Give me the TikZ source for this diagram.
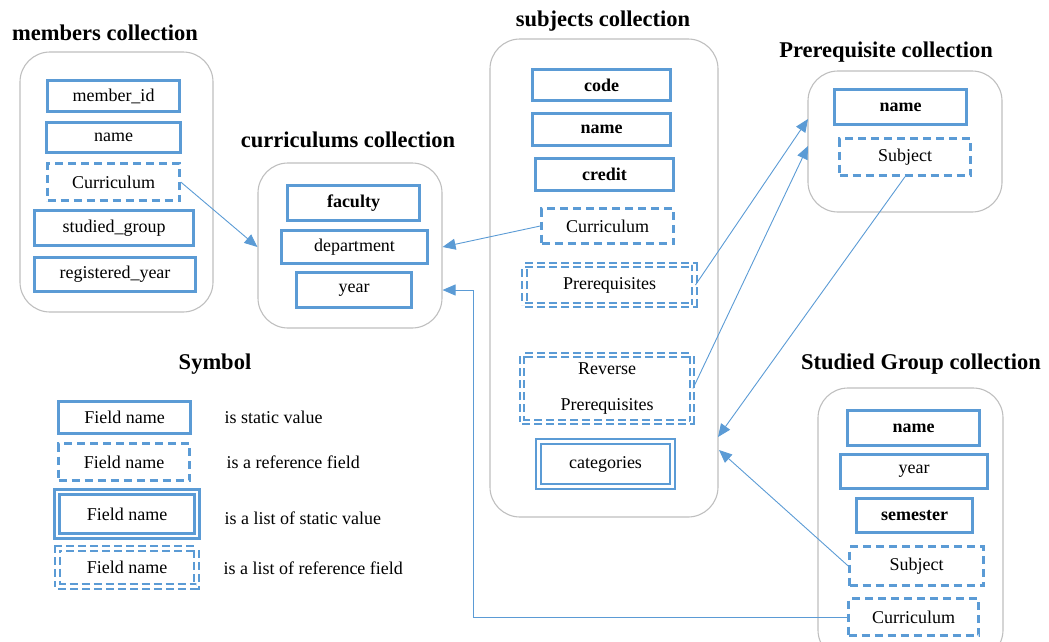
\documentclass[tikz,border=0pt]{standalone}
\usepackage{fontspec}
\setmainfont{Liberation Serif}
\usetikzlibrary{arrows.meta}
\definecolor{fieldblue}{HTML}{5B9BD5}
\definecolor{boxgray}{HTML}{BFBFBF}
\tikzset{
    coll/.style={draw=boxgray,line width=1.1pt,rounded corners=30pt,inner sep=0pt},
    field/.style={draw=fieldblue,line width=2.5pt,inner sep=0pt,font=\fontsize{18}{20}\selectfont},
    reffield/.style={field,dash pattern=on 8pt off 5pt},
    listfield/.style={field,line width=2.6pt,double=white,double distance=2.6pt},
    listref/.style={field,line width=1.9pt,double=white,double distance=2.4pt,dash pattern=on 8pt off 4pt},
    fsize/.style 2 args={minimum width=#1,minimum height=#2},
    title/.style={font=\bfseries\fontsize{22.5}{26}\selectfont},
    desc/.style={anchor=west,font=\fontsize{18}{20}\selectfont},
    link/.style={draw=fieldblue,line width=0.9pt,-{Triangle[length=13pt,width=11pt]}}
}
\begin{document}
\begin{tikzpicture}[x=1pt,y=-1pt]
    \clip (0,0) rectangle (1049,641);
    % Collections
    \node[coll,fsize={193pt}{260pt}] (membox) at (116.5,182){};
    \node[coll,fsize={184pt}{165pt}] (curbox) at (350,245.5){};
    \node[coll,fsize={228pt}{478pt}] (subbox) at (604,278){};
    \node[coll,fsize={194pt}{141pt}] (prebox) at (905,141.5){};
    \node[coll,fsize={185pt}{272pt}] (grpbox) at (910.5,524){};
    % Titles
    \node[title] (memtitle) at (105,33){members collection};
    \node[title] (curtitle) at (348,140){curriculums collection};
    \node[title] (subtitle) at (603,21){subjects collection};
    \node[title] (pretitle) at (886,52){Prerequisite collection};
    \node[title] (grptitle) at (921,364){Studied Group collection};
    \node[title] (symtitle) at (215,364){Symbol};
    % members
    \node[field,fsize={132pt}{31pt}] (mid) at (113.5,96){member\_id};
    \node[field,fsize={134pt}{30pt}] (mname) at (113.5,137.5){name};
    \node[reffield,fsize={132pt}{37pt}] (mcur) at (113.5,182){Curriculum};
    \node[field,fsize={159pt}{35pt}] (mgroup) at (114,228){studied\_group};
    \node[field,fsize={161pt}{34pt}] (myear) at (115,274.5){registered\_year};
    % curriculums
    \node[field,fsize={132pt}{35pt},font=\bfseries\fontsize{18}{20}\selectfont] (cfac) at (353.5,203){faculty};
    \node[field,fsize={146pt}{33pt}] (cdep) at (354.5,247){department};
    \node[field,fsize={115pt}{35pt}] (cyear) at (354,290){year};
    % subjects
    \node[field,fsize={138pt}{31pt},font=\bfseries\fontsize{18}{20}\selectfont] (scode) at (601.5,85){code};
    \node[field,fsize={138pt}{32pt},font=\bfseries\fontsize{18}{20}\selectfont] (sname) at (601.5,129.5){name};
    \node[field,fsize={138pt}{32pt},font=\bfseries\fontsize{18}{20}\selectfont] (scredit) at (604.5,174.5){credit};
    \node[reffield,fsize={132pt}{35pt}] (scur) at (607.5,226){Curriculum};
    \node[listref,fsize={170pt}{40pt}] (spre) at (609.5,285){Prerequisites};
    \node[listref,fsize={170pt}{67pt},align=center,font=\fontsize{18}{36}\selectfont] (srev) at (607,388.5){Reverse\\Prerequisites};
    \node[listfield,fsize={134pt}{45pt}] (scat) at (605.5,464){categories};
    % Prerequisite
    \node[field,fsize={132pt}{35pt},font=\bfseries\fontsize{18}{20}\selectfont] (pname) at (900.5,107){name};
    \node[reffield,fsize={131pt}{37pt}] (psub) at (905,157){Subject};
    % Studied Group
    \node[field,fsize={132pt}{35pt},font=\bfseries\fontsize{18}{20}\selectfont] (gname) at (913.5,428){name};
    \node[field,fsize={147pt}{34pt}] (gyear) at (914,471.5){year};
    \node[field,fsize={116pt}{34pt},font=\bfseries\fontsize{18}{20}\selectfont] (gsem) at (914.5,515.5){semester};
    \node[reffield,fsize={134pt}{39pt}] (gsub) at (916.5,566){Subject};
    \node[reffield,fsize={130pt}{37pt}] (gcur) at (913.5,617){Curriculum};
    % Symbol
    \node[field,fsize={132pt}{32pt}] (lstat) at (124.5,417.5){Field name};
    \node[reffield,fsize={131pt}{37pt}] (lref) at (124,462){Field name};
    \node[listfield,fsize={140pt}{44pt}] (llist) at (127,514){Field name};
    \node[listref,fsize={139pt}{38pt}] (llref) at (127,567.5){Field name};
    \node[desc] (dstat) at (221,417){is static value};
    \node[desc] (dref) at (223,462){is a reference field};
    \node[desc] (dlist) at (221,518){is a list of static value};
    \node[desc] (dlref) at (220,568){is a list of reference field};
    % Links
    \coordinate (turn) at (473,290);
    \coordinate (pin1) at (808,119);
    \coordinate (pin2) at (808,146);
    \coordinate (sin1) at (718,437);
    \coordinate (sin2) at (719,450);
    \path[link] (mcur.east) to (cdep -| curbox.west);
    \path[link] (scur.west) to (cdep -| curbox.east);
    \path[link] (gcur.west) -| (turn) -- (cyear -| curbox.east);
    \path[link] (spre.east) to (pin1);
    \path[link] (srev.east) to (pin2);
    \path[link] (psub.south) to (sin1);
    \path[link] (gsub.west) to (sin2);
\end{tikzpicture}
\end{document}
